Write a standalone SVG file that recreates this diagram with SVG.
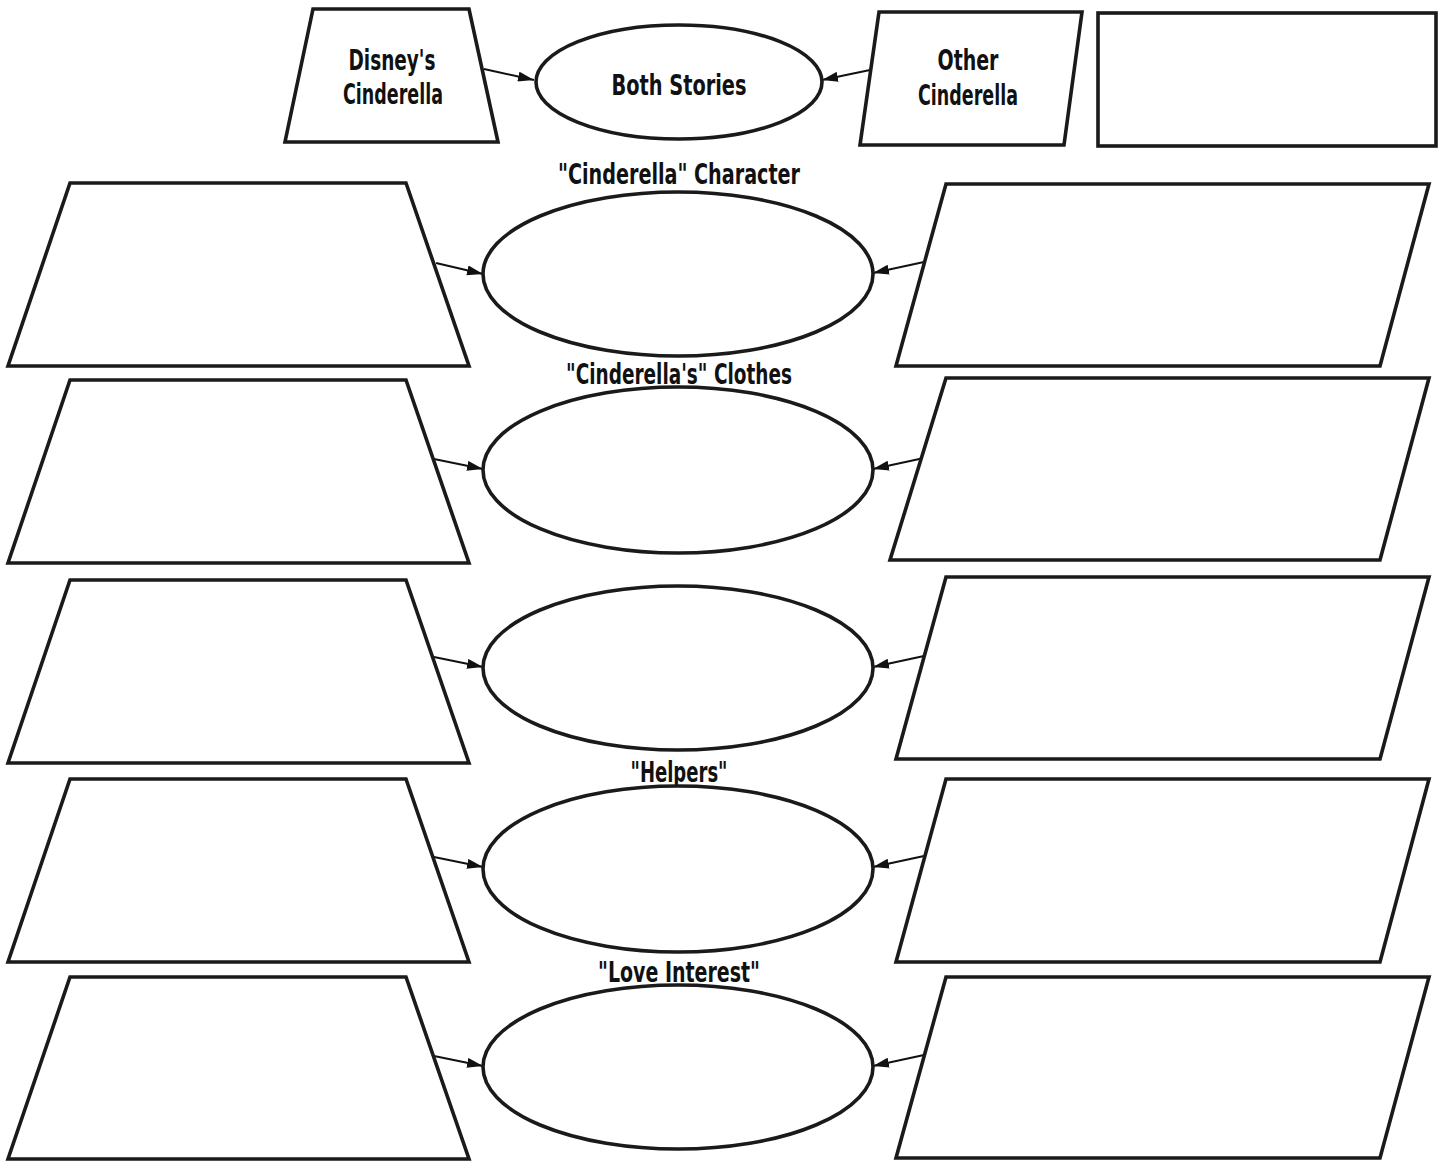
<svg xmlns="http://www.w3.org/2000/svg" width="1444" height="1161" viewBox="0 0 1444 1161">
<defs>
<style>
.shape{fill:#fff;stroke:#1a1a1a;stroke-width:3.6;stroke-linejoin:miter}
.conn{fill:none;stroke:#111;stroke-width:2}
.lbl{font-family:"DejaVu Sans Condensed","DejaVu Sans",sans-serif;font-weight:bold;font-size:28px;fill:#111;text-anchor:middle}
</style>
<marker id="ahb" viewBox="0 0 10 10" refX="10" refY="5" markerWidth="16" markerHeight="10" markerUnits="userSpaceOnUse" orient="auto" preserveAspectRatio="none">
<path d="M0,0 L10,5 L0,10 Z" fill="#111"/>
</marker>
</defs>
<rect width="1444" height="1161" fill="#fff"/>

<g id="connectors">
<line class="conn" x1="484" y1="69" x2="534" y2="80" marker-end="url(#ahb)"/>
<line class="conn" x1="870" y1="70" x2="822" y2="80" marker-end="url(#ahb)"/>
<line class="conn" x1="436" y1="263" x2="483" y2="274" marker-end="url(#ahb)"/>
<line class="conn" x1="924" y1="262" x2="873" y2="273" marker-end="url(#ahb)"/>
<line class="conn" x1="434" y1="459" x2="483" y2="469" marker-end="url(#ahb)"/>
<line class="conn" x1="924" y1="458" x2="873" y2="469" marker-end="url(#ahb)"/>
<line class="conn" x1="434" y1="657" x2="483" y2="667" marker-end="url(#ahb)"/>
<line class="conn" x1="924" y1="656" x2="873" y2="667" marker-end="url(#ahb)"/>
<line class="conn" x1="434" y1="857" x2="483" y2="867" marker-end="url(#ahb)"/>
<line class="conn" x1="924" y1="856" x2="873" y2="867" marker-end="url(#ahb)"/>
<line class="conn" x1="434" y1="1056" x2="483" y2="1066" marker-end="url(#ahb)"/>
<line class="conn" x1="924" y1="1055" x2="873" y2="1066" marker-end="url(#ahb)"/>
</g>

<g id="disney">
<polygon class="shape" points="313,9 469,9 498,142 285,142"/>
<text class="lbl" x="392" y="70" textLength="87" lengthAdjust="spacingAndGlyphs">Disney's</text>
<text class="lbl" x="393" y="104" textLength="100" lengthAdjust="spacingAndGlyphs">Cinderella</text>
</g>
<g id="both">
<ellipse class="shape" cx="679" cy="82" rx="143" ry="57"/>
<text class="lbl" x="679" y="95" textLength="135" lengthAdjust="spacingAndGlyphs">Both Stories</text>
</g>
<g id="other">
<polygon class="shape" points="879,12 1082,12 1064,145 860,145"/>
<text class="lbl" x="968" y="70" textLength="61" lengthAdjust="spacingAndGlyphs">Other</text>
<text class="lbl" x="968" y="105" textLength="100" lengthAdjust="spacingAndGlyphs">Cinderella</text>
</g>
<g id="blank-box">
<rect class="shape" x="1098" y="13" width="338" height="133"/>
</g>

<g id="label-character"><text class="lbl" x="679" y="184" textLength="242" lengthAdjust="spacingAndGlyphs">"Cinderella" Character</text></g>
<g id="label-clothes"><text class="lbl" x="679" y="384" textLength="226" lengthAdjust="spacingAndGlyphs">"Cinderella's" Clothes</text></g>
<g id="label-helpers"><text class="lbl" x="679" y="782" textLength="97" lengthAdjust="spacingAndGlyphs">"Helpers"</text></g>
<g id="label-love"><text class="lbl" x="679" y="982" textLength="162" lengthAdjust="spacingAndGlyphs">"Love Interest"</text></g>

<g id="row1-left"><polygon class="shape" points="70,183 406,183 469,366 8,366"/></g>
<g id="row1-mid"><ellipse class="shape" cx="678" cy="274" rx="195" ry="82"/></g>
<g id="row1-right"><polygon class="shape" points="946,184 1429,184 1380,366 896,366"/></g>

<g id="row2-left"><polygon class="shape" points="70,380 406,380 469,563 8,563"/></g>
<g id="row2-mid"><ellipse class="shape" cx="678" cy="470" rx="195" ry="83"/></g>
<g id="row2-right"><polygon class="shape" points="946,378 1429,378 1380,560 890,560"/></g>

<g id="row3-left"><polygon class="shape" points="70,580 406,580 469,763 8,763"/></g>
<g id="row3-mid"><ellipse class="shape" cx="678" cy="668" rx="195" ry="82"/></g>
<g id="row3-right"><polygon class="shape" points="946,577 1429,577 1380,759 896,759"/></g>

<g id="row4-left"><polygon class="shape" points="70,779 406,779 469,962 8,962"/></g>
<g id="row4-mid"><ellipse class="shape" cx="678" cy="869" rx="195" ry="83"/></g>
<g id="row4-right"><polygon class="shape" points="946,779 1429,779 1380,962 896,962"/></g>

<g id="row5-left"><polygon class="shape" points="70,977 406,977 469,1159 8,1159"/></g>
<g id="row5-mid"><ellipse class="shape" cx="678" cy="1067" rx="195" ry="82"/></g>
<g id="row5-right"><polygon class="shape" points="946,977 1429,977 1380,1158 896,1158"/></g>
</svg>
